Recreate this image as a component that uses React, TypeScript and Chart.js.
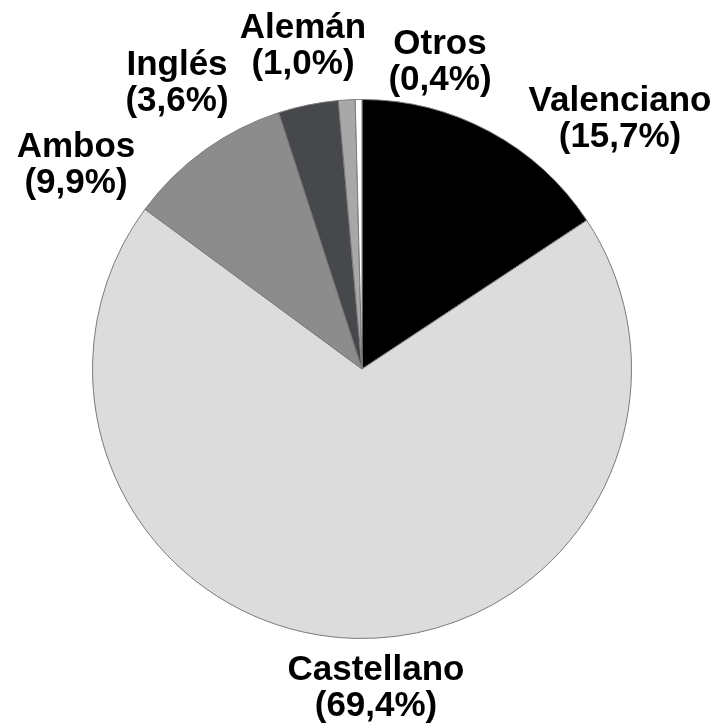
import React, { useEffect, useRef } from "react";
import { Chart, registerables } from "chart.js";

Chart.register(...registerables);

const categories = ["Valenciano", "Castellano", "Ambos", "Inglés", "Alemán", "Otros"];
const shares = [15.7, 69.4, 9.9, 3.6, 1.0, 0.4];
const percentLabels = ["(15,7%)", "(69,4%)", "(9,9%)", "(3,6%)", "(1,0%)", "(0,4%)"];
const sliceColors = ["#000000", "#dcdcdc", "#8c8c8c", "#46484b", "#a8a8a8", "#ffffff"];

// label layout: center x and first-line baseline (canvas px)
const labelLayout = [
  { x: 620, y: 111 },
  { x: 376, y: 680 },
  { x: 76, y: 157 },
  { x: 177, y: 75 },
  { x: 303, y: 38 },
  { x: 440, y: 54 },
];

const W = 717;
const H = 724;

const labelPlugin = {
  id: "pieLabels",
  afterDraw(chart: any) {
    const ctx = chart.ctx;
    ctx.save();
    ctx.fillStyle = "#000000";
    ctx.font = "bold 35px 'Liberation Sans', Arial, sans-serif";
    ctx.textAlign = "center";
    ctx.textBaseline = "alphabetic";
    const labels = chart.data.labels as string[];
    labels.forEach((name: string, i: number) => {
      const p = labelLayout[i];
      ctx.fillText(name, p.x, p.y);
      ctx.fillText(percentLabels[i], p.x, p.y + 36);
    });
    ctx.restore();
  },
};

export default function App() {
  const ref = useRef<HTMLCanvasElement | null>(null);
  useEffect(() => {
    if (!ref.current) return;
    const chart = new Chart(ref.current, {
      type: "pie",
      data: {
        labels: categories,
        datasets: [
          {
            data: shares,
            backgroundColor: sliceColors,
            borderColor: "#7a7a7a",
            borderWidth: 1,
          },
        ],
      },
      options: {
        responsive: false,
        animation: false,
        layout: { padding: { left: 92, right: 85, top: 99, bottom: 85 } },
        plugins: {
          legend: { display: false },
          tooltip: { enabled: false },
          title: { display: false },
        },
      },
      plugins: [labelPlugin],
    });
    return () => chart.destroy();
  }, []);
  return (
    <div style={{ position: "absolute", left: 0, top: 0, width: W, height: H, background: "#ffffff" }}>
      <canvas ref={ref} width={W} height={H} style={{ width: W, height: H, display: "block" }} />
    </div>
  );
}
